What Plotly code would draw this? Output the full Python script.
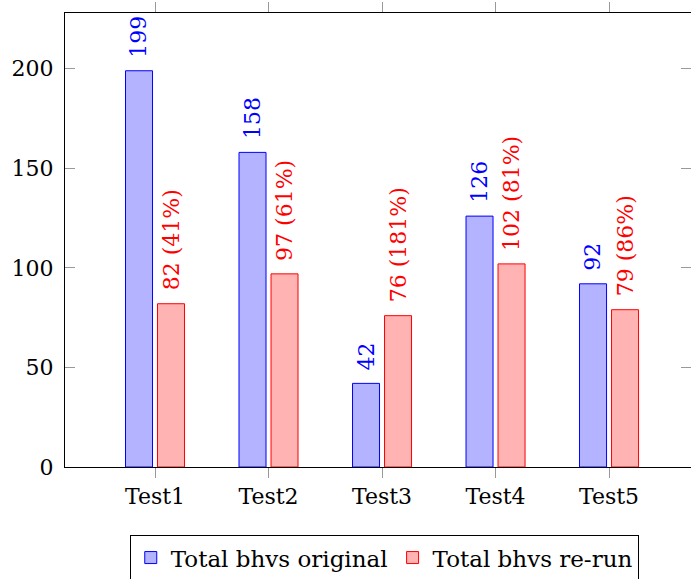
import plotly.graph_objects as go

categories = ["Test1", "Test2", "Test3", "Test4", "Test5"]
original = [199, 158, 42, 126, 92]
rerun = [82, 97, 76, 102, 79]
rerun_pct = [41, 61, 181, 81, 86]

FONT = "DejaVu Serif"
FS = 22
BAR_OFFSET = 0.141

x_idx = list(range(len(categories)))

fig = go.Figure()
fig.add_trace(go.Bar(
    x=x_idx, y=original, name="Total bhvs original",
    marker=dict(color="rgb(179,179,255)", line=dict(color="blue", width=1)),
))
fig.add_trace(go.Bar(
    x=x_idx, y=rerun, name="Total bhvs re-run",
    marker=dict(color="rgb(255,179,179)", line=dict(color="red", width=1)),
))

# rotated value labels above each bar
for i, v in enumerate(original):
    fig.add_annotation(x=i - BAR_OFFSET, y=v, text=str(v), textangle=-90,
                       showarrow=False, xanchor="center", yanchor="bottom",
                       yshift=11, font=dict(color="blue", family=FONT, size=FS))
for i, (v, p) in enumerate(zip(rerun, rerun_pct)):
    fig.add_annotation(x=i + BAR_OFFSET, y=v, text=f"{v} ({p}%)", textangle=-90,
                       showarrow=False, xanchor="center", yanchor="bottom",
                       yshift=11, font=dict(color="red", family=FONT, size=FS))

fig.update_layout(
    width=691, height=579,
    margin=dict(l=65, r=0, t=13, b=112, autoexpand=False),
    plot_bgcolor="white", paper_bgcolor="white",
    barmode="group", bargap=0.436, bargroupgap=0.156,
    font=dict(family=FONT, size=FS, color="black"),
    legend=dict(orientation="h", x=0.51, xanchor="center", y=-0.15, yanchor="top",
                bordercolor="black", borderwidth=1, font=dict(size=23),
                itemwidth=30, tracegroupgap=0),
    xaxis=dict(
        range=[-0.793, 4.722], tickmode="array", tickvals=x_idx, ticktext=categories,
        showline=True, linecolor="black", linewidth=1, mirror="ticks",
        ticks="outside", ticklen=10, tickcolor="#999999", showgrid=False,
        zeroline=False,
    ),
    yaxis=dict(
        range=[0, 228], tickvals=[0, 50, 100, 150, 200],
        showline=True, linecolor="black", linewidth=1, mirror="ticks",
        ticks="inside", ticklen=10, tickcolor="#999999", showgrid=False,
        zeroline=False, ticklabelstandoff=6,
    ),
)

fig.write_html("out.html")
